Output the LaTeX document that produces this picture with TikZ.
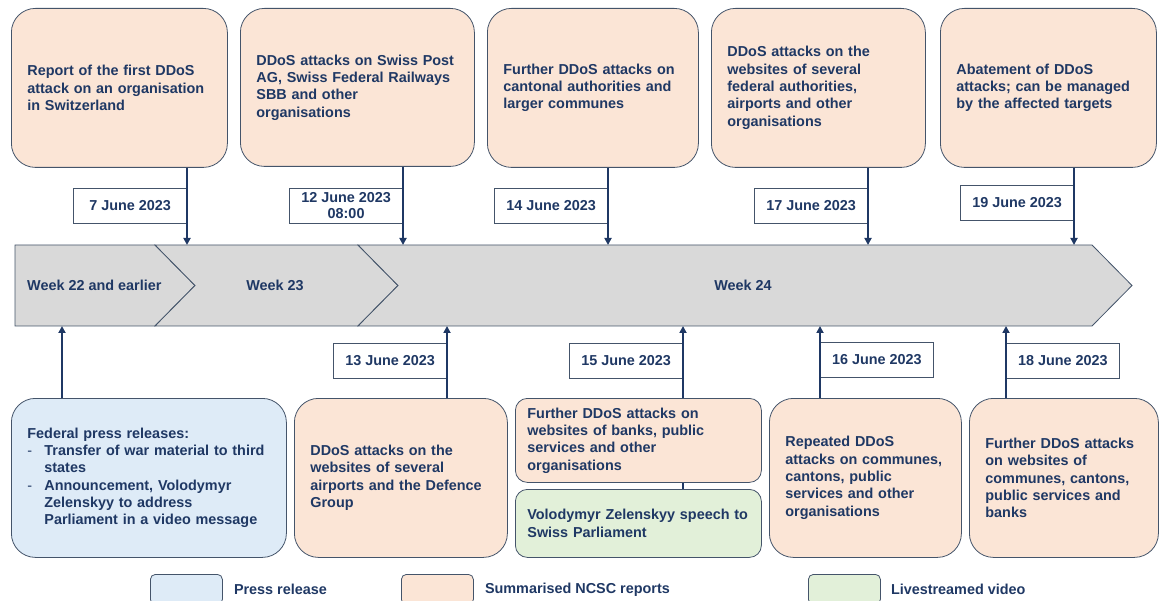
\documentclass[tikz,border=0pt]{standalone}
\usepackage{fontspec}
\setmainfont{Liberation Sans}
\usepackage{xcolor}
\usetikzlibrary{arrows.meta,positioning,calc}
\definecolor{ncscnavy}{RGB}{31,56,100}
\definecolor{ncscedge}{RGB}{68,84,106}
\definecolor{reportfill}{RGB}{251,229,214}
\definecolor{pressfill}{RGB}{222,235,247}
\definecolor{videofill}{RGB}{226,240,217}
\definecolor{weekgray}{RGB}{217,217,217}

\begin{document}
\begin{tikzpicture}[x=1pt, y=-1pt,
    every node/.style={font=\fontsize{14.4}{17.3}\selectfont\bfseries, text=ncscnavy},
    event/.style={draw=ncscedge, line width=0.8pt, rounded corners=24pt, inner xsep=16pt,
        inner ysep=0pt, align=left, anchor=north west, minimum height=159pt},
    report/.style={event, fill=reportfill},
    press/.style={event, fill=pressfill},
    datebox/.style={draw=ncscedge, fill=white, line width=0.8pt, minimum width=113pt,
        minimum height=35pt, inner sep=0pt, align=center},
    link/.style={draw=ncscnavy, line width=2.4pt, -{Triangle[length=7pt,width=7pt]}},
    weekseg/.style={fill=weekgray, draw=ncscedge, line width=0.8pt},
    legendbox/.style={draw=ncscedge, line width=0.8pt, rounded corners=5pt, minimum width=72pt,
        minimum height=30pt, inner sep=0pt, anchor=north west}]
    \useasboundingbox (0,0) rectangle (1159,601);
    \clip (0,0) rectangle (1159,601);

    % Week chevrons
    \path[weekseg] (15,245) -- (155,245) -- (195,285.5) -- (155,326) -- (15,326) -- cycle;
    \path[weekseg] (155,245) -- (358,245) -- (398,285.5) -- (358,326) -- (155,326) -- (195,285.5) -- cycle;
    \path[weekseg] (358,245) -- (1092,245) -- (1132,285.5) -- (1092,326) -- (358,326) -- (398,285.5) -- cycle;
    \node[anchor=west, inner xsep=0pt] (w1) at (27,285.5) {Week 22 and earlier};
    \node (w2) at (275,285.5) {Week 23};
    \node (w3) at (743,285.5) {Week 24};

    % Timeline anchor points
    \coordinate (t1) at (187,245);
    \coordinate (t2) at (403,245);
    \coordinate (t3) at (608,245);
    \coordinate (t4) at (868,245);
    \coordinate (t5) at (1074,245);
    \coordinate (s1) at (62,326);
    \coordinate (s2) at (447,326);
    \coordinate (s3) at (683,326);
    \coordinate (s4) at (820,326);
    \coordinate (s5) at (1006,326);

    % Events above the timeline
    \node[report, text width=184pt] (e1) at (11,8)
        {Report of the first DDoS\\attack on an organisation\\in Switzerland};
    \node[report, text width=202pt, minimum height=158pt] (e2) at (240,8)
        {DDoS attacks on Swiss Post\\AG, Swiss Federal Railways\\SBB and other\\organisations};
    \node[report, text width=179pt] (e3) at (487,8)
        {Further DDoS attacks on\\cantonal authorities and\\larger communes};
    \node[report, text width=182pt] (e4) at (711,8)
        {DDoS attacks on the\\websites of several\\federal authorities,\\airports and other\\organisations};
    \node[report, text width=184pt] (e5) at (940,8)
        {Abatement of DDoS\\attacks; can be managed\\by the affected targets};

    % Events below the timeline
    \node[press, text width=243pt] (b1) at (11,398)
        {Federal press releases:\\
         \makebox[17pt][l]{\mdseries -}Transfer of war material to third\\
         \hspace*{17pt}states\\
         \makebox[17pt][l]{\mdseries -}Announcement, Volodymyr\\
         \hspace*{17pt}Zelenskyy to address\\
         \hspace*{17pt}Parliament in a video message};
    \node[report, text width=181pt] (b2) at (294,398)
        {DDoS attacks on the\\websites of several\\airports and the Defence\\Group};
    \node[report, rounded corners=12pt, inner xsep=12pt, text width=222pt, minimum height=84pt] (b3) at (515,398)
        {Further DDoS attacks on\\websites of banks, public\\services and other\\organisations};
    \node[event, fill=videofill, rounded corners=12pt, inner xsep=12pt, text width=222pt, minimum height=68pt] (v1) at (515,489)
        {Volodymyr Zelenskyy speech to\\Swiss Parliament};
    \node[report, text width=160pt] (b4) at (769,398)
        {Repeated DDoS\\attacks on communes,\\cantons, public\\services and other\\organisations};
    \node[report, text width=157pt] (b5) at (969,398)
        {Further DDoS attacks\\on websites of\\communes, cantons,\\public services and\\banks};

    % Dates
    \node[datebox, anchor=north east] (d1) at (187,188) {7 June 2023};
    \node[datebox, anchor=north east] (d2) at (403,188) {12 June 2023\\[-1.5pt]08:00};
    \node[datebox, anchor=north east] (d3) at (608,188) {14 June 2023};
    \node[datebox, anchor=north east] (d4) at (868,188) {17 June 2023};
    \node[datebox, anchor=north east] (d5) at (1074,185) {19 June 2023};
    \node[datebox, anchor=north east] (d6) at (447,343) {13 June 2023};
    \node[datebox, anchor=north east] (d7) at (683,343) {15 June 2023};
    \node[datebox, anchor=north west] (d8) at (820,342) {16 June 2023};
    \node[datebox, anchor=north west] (d9) at (1006,343) {18 June 2023};

    % Connectors
    \foreach \i in {1,...,5} {
        \draw[link] (e\i.south -| t\i) -- (t\i);
        \draw[link] (b\i.north -| s\i) -- (s\i);
    }
    \draw[ncscnavy, line width=2.4pt] (b3.south -| s3) -- (v1.north -| s3);

    % Legend
    \node[legendbox, fill=pressfill] (lg1) at (150,574) {};
    \node[right=11pt of lg1, inner xsep=0pt] (lt1) {Press release};
    \node[legendbox, fill=reportfill] (lg2) at (401,574) {};
    \node[right=11pt of lg2, inner xsep=0pt] (lt2) {Summarised NCSC reports};
    \node[legendbox, fill=videofill] (lg3) at (808,574) {};
    \node[right=10pt of lg3, inner xsep=0pt] (lt3) {Livestreamed video};
\end{tikzpicture}
\end{document}
